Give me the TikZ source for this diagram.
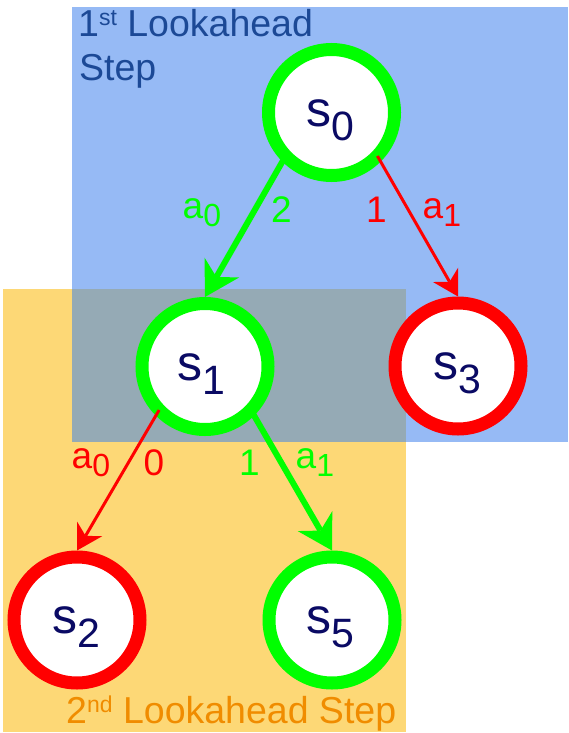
\documentclass[tikz,border=0pt]{standalone}
\usepackage{fontspec}
\setmainfont{Liberation Sans}
\usetikzlibrary{arrows.meta}

\definecolor{stepblue}{HTML}{96BAF5}
\definecolor{steporange}{HTML}{FDD876}
\definecolor{overlapgray}{HTML}{95AAB5}
\definecolor{titleblue}{HTML}{1C4996}
\definecolor{titleorange}{HTML}{F08C00}
\definecolor{statenavy}{HTML}{0A0A64}
\definecolor{goodgreen}{HTML}{00FF00}
\definecolor{badred}{HTML}{FF0000}

% state name with a lowered index, e.g. s_0
\newcommand{\statelbl}[2]{\fontsize{50}{50}\selectfont #1\raisebox{-14pt}{\fontsize{41}{41}\selectfont #2}}
% lowered index used in action labels
\newcommand{\actidx}[1]{\raisebox{-8pt}{\fontsize{32}{32}\selectfont #1}}
% raised ordinal suffix
\newcommand{\ordsuf}[1]{\raisebox{11pt}{\fontsize{23}{23}\selectfont #1}}

\begin{document}
\begin{tikzpicture}[x=1pt, y=-1pt,
  state/.style={circle, draw, line width=13pt, fill=white, minimum size=126pt,
                inner sep=0pt, outer sep=6.5pt},
  goodstate/.style={state, draw=goodgreen},
  badstate/.style={state, draw=badred},
  statetext/.style={text=statenavy, inner sep=0pt},
  goodedge/.style={draw=goodgreen, line width=6pt, shorten <=-6.5pt,
                   -{Stealth[length=34pt, width=40pt, inset=11pt, line width=0pt]}},
  badedge/.style={draw=badred, line width=3pt, shorten <=-6.5pt,
                  -{Stealth[length=25pt, width=29pt, inset=8pt, line width=0pt]}},
  edgelabel/.style={inner sep=0pt, anchor=base west, font=\fontsize{37}{37}\selectfont},
  steptitle/.style={inner sep=0pt, anchor=base west, font=\fontsize{37.5}{37.5}\selectfont}]

\useasboundingbox (0,0) rectangle (568,733);

% lookahead regions
\fill[stepblue] (72,7) rectangle (568,442);
\fill[steporange] (3,289) rectangle (406,732);
\fill[overlapgray] (72,289) rectangle (406,442);

% region titles
\node[steptitle, text=titleblue] (t1a) at (78,37) {1\ordsuf{st} Lookahead};
\node[steptitle, text=titleblue] (t1b) at (79,81) {Step};
\node[steptitle, text=titleorange] (t2) at (66,723) {2\ordsuf{nd} Lookahead Step};

% states
\node[goodstate] (s0) at (331.5,112.5) {};
\node[goodstate] (s1) at (205,366.5) {};
\node[badstate]  (s3) at (458,366) {};
\node[badstate]  (s2) at (77,620) {};
\node[goodstate] (s5) at (332,620) {};

\node[statetext] (s0t) at ([shift={(-1.5,7.5)}]s0.center) {\statelbl{s}{0}};
\node[statetext] (s1t) at ([shift={(-4,7.5)}]s1.center) {\statelbl{s}{1}};
\node[statetext] (s3t) at ([shift={(-1,7.5)}]s3.center) {\statelbl{s}{3}};
\node[statetext] (s2t) at ([shift={(-1,7.5)}]s2.center) {\statelbl{s}{2}};
\node[statetext] (s5t) at ([shift={(-2,7.5)}]s5.center) {\statelbl{s}{5}};

% transitions
\draw[goodedge] (s0.225) -- (s1.north);
\draw[badedge]  (s0.-45) -- (s3.north);
\draw[badedge]  (s1.225) -- (s2.north);
\draw[goodedge] (s1.-45) -- (s5.north);

% action and reward labels
\node[edgelabel, text=goodgreen] (l01a) at (182.5,218) {a\actidx{0}};
\node[edgelabel, text=goodgreen] (l01r) at (271,222) {2};
\node[edgelabel, text=badred]    (l03r) at (366,222) {1};
\node[edgelabel, text=badred]    (l03a) at (422.5,218) {a\actidx{1}};
\node[edgelabel, text=badred]    (l12a) at (71.5,468) {a\actidx{0}};
\node[edgelabel, text=badred]    (l12r) at (143.5,475) {0};
\node[edgelabel, text=goodgreen] (l15r) at (239,475) {1};
\node[edgelabel, text=goodgreen] (l15a) at (295.5,468) {a\actidx{1}};
\end{tikzpicture}
\end{document}
